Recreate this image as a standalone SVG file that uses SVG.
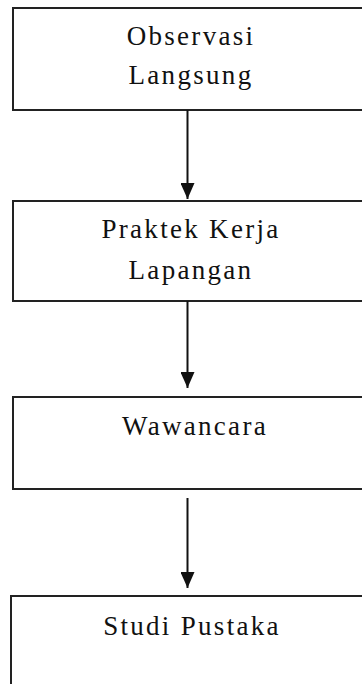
<svg xmlns="http://www.w3.org/2000/svg" width="362" height="684" viewBox="0 0 362 684">
<defs>
<style>
.box{fill:#fff;stroke:#222;stroke-width:2}
.lbl{font-family:"Liberation Serif","Times New Roman",serif;font-size:27px;fill:#111;text-anchor:middle;letter-spacing:2.3px}
.conn{stroke:#111;stroke-width:2;fill:none}
</style>
<marker id="ah" markerUnits="userSpaceOnUse" markerWidth="16" markerHeight="14" refX="16" refY="7" orient="auto" viewBox="0 0 16 14">
<path d="M0,0 L16,7 L0,14 Z" fill="#111"/>
</marker>
</defs>
<rect width="362" height="684" fill="#fff"/>
<g id="n1">
<rect class="box" x="13" y="8" width="360" height="102"/>
<text class="lbl" x="191" y="45">Observasi</text>
<text class="lbl" x="191" y="84">Langsung</text>
</g>
<g id="n2">
<rect class="box" x="13" y="201" width="360" height="100"/>
<text class="lbl" x="191" y="238">Praktek Kerja</text>
<text class="lbl" x="191" y="279">Lapangan</text>
</g>
<g id="n3">
<rect class="box" x="13" y="397" width="360" height="92"/>
<text class="lbl" x="195" y="435">Wawancara</text>
</g>
<g id="n4">
<path class="box" d="M11,690 L11,596 L373,596"/>
<text class="lbl" x="192" y="635">Studi Pustaka</text>
</g>
<g id="connectors">
<path class="conn" d="M187.5,110 V199" marker-end="url(#ah)"/>
<path class="conn" d="M187.5,301 V388" marker-end="url(#ah)"/>
<path class="conn" d="M187.5,498 V588" marker-end="url(#ah)"/>
</g>
</svg>
